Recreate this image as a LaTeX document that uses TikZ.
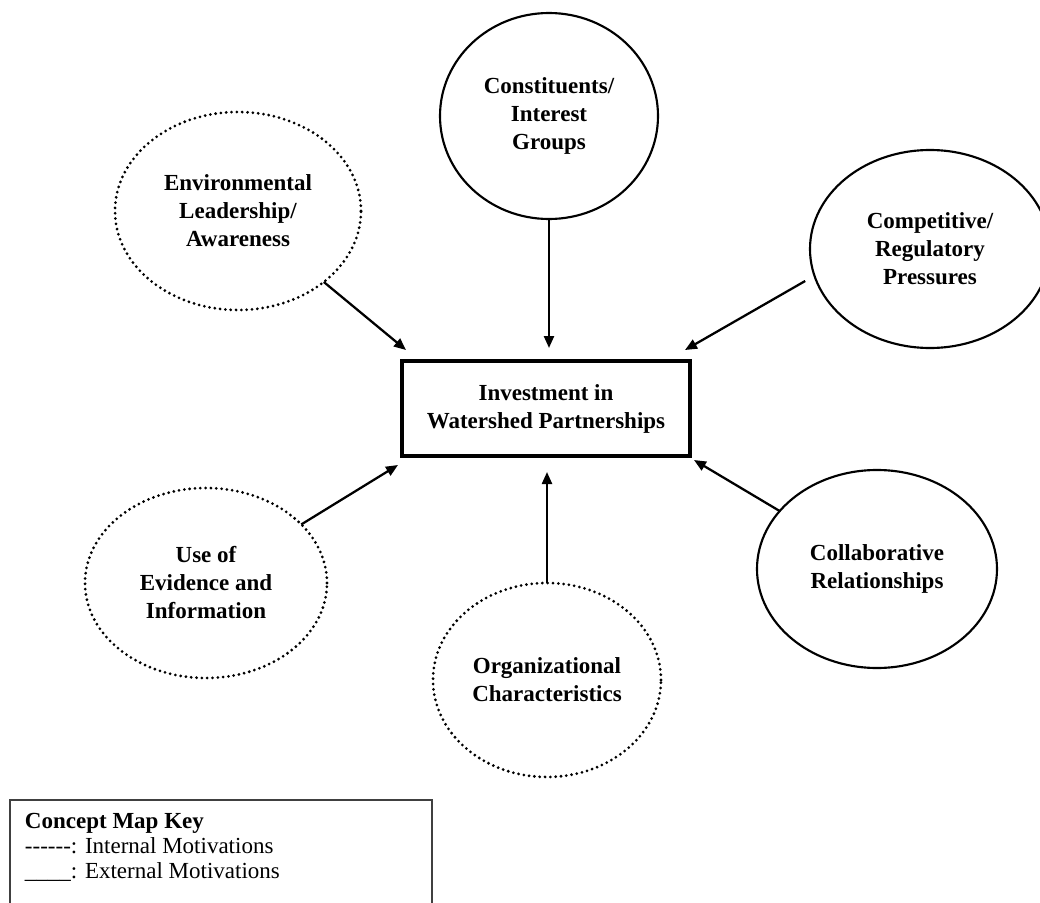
\documentclass[tikz,border=0pt]{standalone}
\usepackage{fontspec}
\setmainfont{Liberation Serif}
\usetikzlibrary{shapes.geometric,arrows.meta}
\begin{document}
\begin{tikzpicture}[x=0.75pt,y=-0.75pt,
  every node/.style={font=\fontsize{17.25pt}{21pt}\selectfont\bfseries,
    align=center, inner sep=0pt, outer sep=0pt},
  extbubble/.style={ellipse, draw, line width=1.6pt},
  intbubble/.style={ellipse, draw, line width=2.3pt, line cap=round,
    dash pattern=on 0pt off 4pt},
  hub/.style={rectangle, draw, line width=2.8pt,
    minimum width=216pt, minimum height=71.25pt},
  conn/.style={-{Triangle[length=9pt,width=7.5pt]}, line width=1.7pt},
  keyframe/.style={line width=1.2pt, draw=black!75}]

\useasboundingbox (0,0) rectangle (1040,903);

% central outcome
\node[hub] (hub) at (546,408.5) {Investment in\\Watershed Partnerships};

% external motivations (solid outline)
\node[extbubble, minimum width=163.5pt, minimum height=154.5pt] (const) at (549,116)
  {Constituents/\\Interest\\Groups};
\node[extbubble, minimum width=180pt, minimum height=148.5pt] (comp) at (930,249)
  {Competitive/\\Regulatory\\Pressures};
\node[extbubble, minimum width=180pt, minimum height=148.5pt] (coll) at (877,569)
  {Collaborative\\Relationships};

% internal motivations (dotted outline)
\node[intbubble, minimum width=184.5pt, minimum height=148.5pt] (env) at (238,211)
  {Environmental\\Leadership/\\Awareness};
\node[intbubble, minimum width=181.5pt, minimum height=142.5pt] (evid) at (206,583)
  {Use of\\Evidence and\\Information};
\node[intbubble, minimum width=171pt, minimum height=145.5pt] (org) at (547,680)
  {Organizational\\Characteristics};

% arrow targets just outside the box
\coordinate (tl) at (406,350);
\coordinate (tc) at (549,348);
\coordinate (tr) at (685,350);
\coordinate (bl) at (398,465);
\coordinate (bc) at (547,472);
\coordinate (br) at (694,460);

\draw[conn] (env) -- (tl);
\draw[conn] (const.south) -- (tc);
\draw[conn, shorten <=8pt] (comp.193) -- (tr);
\draw[conn] (evid) -- (bl);
\draw[conn] (org.north) -- (bc);
\draw[conn] (coll) -- (br);

% key
\draw[keyframe] (10,903) -- (10,800) -- (432,800) -- (432,903);
\node[anchor=base west, align=left,
  font=\fontsize{17.25pt}{18.75pt}\selectfont] (key) at (25,878)
  {\textbf{Concept Map Key}\\
   -{}-{}-{}-{}-{}-: Internal Motivations\\
   \_\_\_\_: External Motivations};

\end{tikzpicture}
\end{document}
